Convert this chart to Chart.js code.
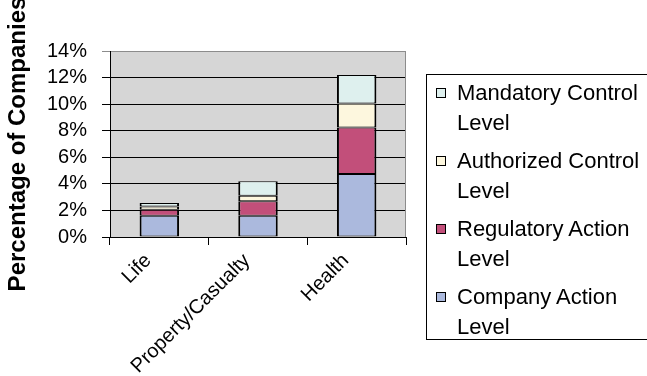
<!DOCTYPE html>
<html>
<head>
<meta charset="utf-8">
<script src="https://cdn.jsdelivr.net/npm/chart.js@4"></script>
<style>
  html, body { margin: 0; padding: 0; background: #fff; }
  #wrap { position: relative; width: 647px; height: 376px; overflow: hidden; font-family: "Liberation Sans", Arial, sans-serif; }
  #c { position: absolute; left: 0; top: 0; }
  #legend { position: absolute; left: 426px; top: 74px; width: 240px; height: 266px; border: 1px solid #000; box-sizing: border-box; }
  .item { position: absolute; left: 0; font-size: 22px; line-height: 30px; color: #000; }
  .item .sw { position: absolute; left: 9px; top: 10px; width: 10px; height: 10px; border: 1px solid #000; box-sizing: border-box; }
  .item .tx { position: absolute; left: 30px; top: 0; white-space: nowrap; }
</style>
</head>
<body>
<div id="wrap">
  <canvas id="c" width="647" height="376"></canvas>
  <div id="legend"></div>
</div>
<script>
const categories = ["Life", "Property/Casualty", "Health"];
const seriesNames = ["Company Action Level", "Regulatory Action Level", "Authorized Control Level", "Mandatory Control Level"];
const companyAction = [1.6, 1.6, 4.75];
const regulatoryAction = [0.45, 1.1, 3.5];
const authorizedControl = [0.25, 0.4, 1.8];
const mandatoryControl = [0.25, 1.1, 2.15];
const yTicks = [0, 2, 4, 6, 8, 10, 12, 14];
const colors = ["#abb9dd", "#c24f7a", "#fdf7de", "#def0ee"];
const legendLines = [["Company Action", "Level"], ["Regulatory Action", "Level"], ["Authorized Control", "Level"], ["Mandatory Control", "Level"]];

const FONT = "'Liberation Sans', Arial, sans-serif";
const values = [companyAction, regulatoryAction, authorizedControl, mandatoryControl];

const plotBg = {
  id: 'plotBg',
  beforeDraw(chart) {
    const {ctx, chartArea: a} = chart;
    ctx.save();
    ctx.fillStyle = '#d6d6d6';
    ctx.fillRect(a.left, a.top, a.right - a.left, a.bottom - a.top);
    ctx.restore();
  },
  afterDatasetsDraw(chart) {
    const {ctx, chartArea: a} = chart;
    ctx.save();
    ctx.strokeStyle = '#8c8c8c';
    ctx.lineWidth = 1;
    ctx.beginPath();
    ctx.moveTo(a.right - 0.5, a.top);
    ctx.lineTo(a.right - 0.5, a.bottom);
    ctx.stroke();
    ctx.restore();
  }
};

new Chart(document.getElementById('c'), {
  type: 'bar',
  data: {
    labels: categories,
    datasets: seriesNames.map((n, i) => ({
      label: n,
      data: values[i],
      backgroundColor: colors[i],
      borderColor: '#000',
      borderWidth: { left: 2, right: 2, top: 1, bottom: 1 },
      borderSkipped: false,
      categoryPercentage: 1,
      barPercentage: 0.4
    }))
  },
  options: {
    responsive: false,
    animation: false,
    devicePixelRatio: 1,
    layout: { padding: { left: 0, top: 51, right: 241, bottom: 0 } },
    plugins: { legend: { display: false }, tooltip: { enabled: false } },
    scales: {
      x: {
        stacked: true,
        afterFit: s => { s.height = 139; },
        border: { display: true, color: '#000', width: 1 },
        grid: { offset: true, drawOnChartArea: false, drawTicks: true, tickLength: 8, color: '#000' },
        ticks: { color: '#000', font: { family: FONT, size: 20 }, minRotation: 45, maxRotation: 45, padding: 4, labelOffset: -11 }
      },
      y: {
        stacked: true,
        min: 0, max: 14,
        afterFit: s => { s.width = 110; },
        afterBuildTicks: s => { s.ticks = yTicks.map(v => ({ value: v })); },
        border: { display: true, color: '#000', width: 1 },
        grid: {
          color: c => (c.tick && c.tick.value === 14) ? '#8c8c8c' : '#000',
          drawTicks: true, tickLength: 8
        },
        ticks: { color: '#000', font: { family: FONT, size: 20 }, padding: 15, autoSkip: false, callback: v => v + '%' },
        title: { display: true, text: 'Percentage of Companies', color: '#000', font: { family: FONT, size: 24, weight: 'bold' }, padding: { top: 4, bottom: 0 } }
      }
    }
  },
  plugins: [plotBg]
});

// legend (reverse order, like the reference)
const leg = document.getElementById('legend');
for (let k = 0; k < 4; k++) {
  const i = 3 - k;
  const d = document.createElement('div');
  d.className = 'item';
  d.style.top = (3 + k * 68) + 'px';
  d.innerHTML = '<span class="sw" style="background:' + colors[i] + '"></span><span class="tx">' + legendLines[i][0] + '<br>' + legendLines[i][1] + '</span>';
  leg.appendChild(d);
}
</script>
</body>
</html>
